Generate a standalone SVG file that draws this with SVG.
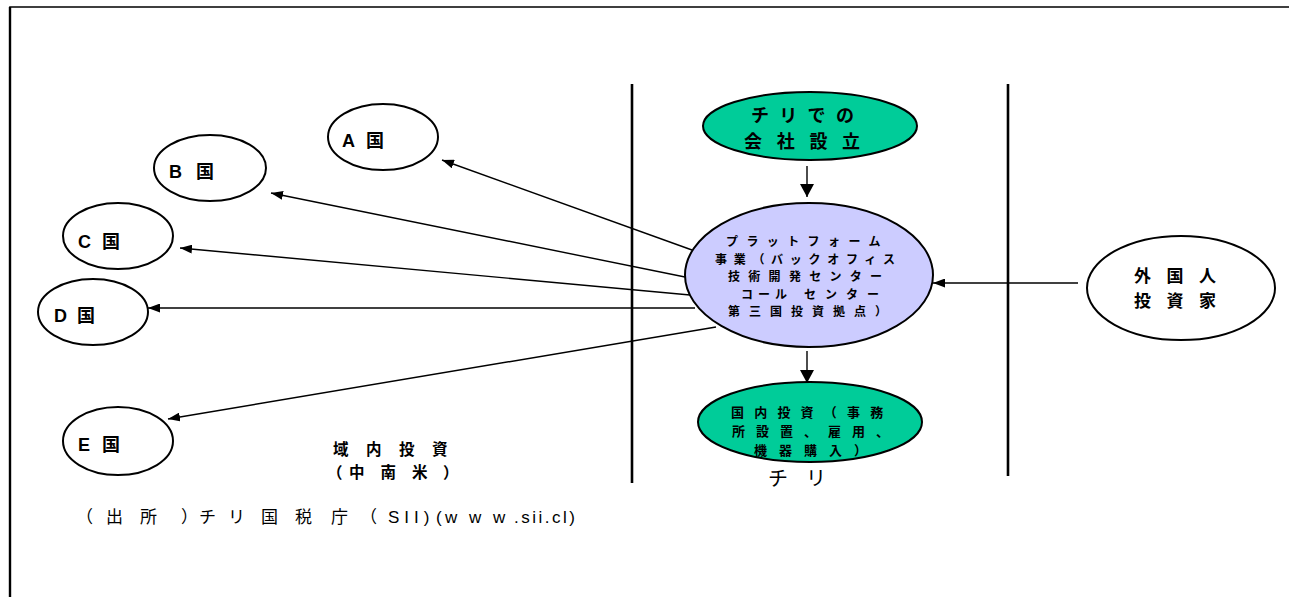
<svg xmlns="http://www.w3.org/2000/svg" width="1289" height="597" viewBox="0 0 1289 597">
<style>
.jp{font-family:"Noto Sans CJK JP","Liberation Sans",sans-serif;font-weight:bold;fill:#000}
.lbl{font-family:"Liberation Sans","Noto Sans CJK JP",sans-serif;font-weight:bold;font-size:18px;fill:#000}
.reg{font-family:"Noto Sans CJK JP","Liberation Sans",sans-serif;font-weight:normal;fill:#000}
.lat{font-family:"Liberation Sans","Noto Sans CJK JP",sans-serif;font-weight:normal;fill:#000}
.node{stroke:#000;stroke-width:2}
.white{fill:#fff}
.green{fill:#00CC99}
.lav{fill:#CCCCFF}
.conn{stroke:#000;stroke-width:1.4;fill:none}
.div{stroke:#000;stroke-width:2.6}
</style>
<defs>
<marker id="ah" markerUnits="userSpaceOnUse" markerWidth="12" markerHeight="9" refX="12" refY="4.5" orient="auto">
<path d="M0,0 L12,4.5 L0,9 z" fill="#000"/>
</marker>
<marker id="ahb" markerUnits="userSpaceOnUse" markerWidth="14" markerHeight="14" refX="13" refY="7" orient="auto">
<path d="M0,0 L13,7 L0,14 z" fill="#000"/>
</marker>
</defs>
<rect width="1289" height="597" fill="#fff"/>
<path d="M10,597 V7 H1289" fill="none" stroke="#000" stroke-width="1.6"/>
<line x1="10" y1="7" x2="10" y2="597" stroke="#000" stroke-width="2.4"/>

<g id="dividers">
<line class="div" x1="632" y1="84" x2="632" y2="483"/>
<line class="div" x1="1008" y1="84" x2="1008" y2="476"/>
</g>

<g id="connectors">
<line class="conn" x1="692" y1="250" x2="442" y2="160" marker-end="url(#ah)"/>
<line class="conn" x1="685" y1="277" x2="271" y2="193" marker-end="url(#ah)"/>
<line class="conn" x1="690" y1="295" x2="180" y2="248" marker-end="url(#ah)"/>
<line class="conn" x1="695" y1="308" x2="148" y2="308" marker-end="url(#ah)"/>
<line class="conn" x1="716" y1="327" x2="168" y2="419" marker-end="url(#ah)"/>
<line class="conn" x1="1078" y1="283" x2="933" y2="283" marker-end="url(#ah)"/>
<line class="conn" x1="807" y1="166" x2="807" y2="197" stroke-width="2" marker-end="url(#ahb)"/>
<line class="conn" x1="807" y1="351" x2="807" y2="383" stroke-width="2" marker-end="url(#ahb)"/>
</g>

<g id="chile-setup">
<ellipse class="node green" cx="810" cy="126" rx="107" ry="34"/>
<text class="jp" font-size="18" x="751" y="121.5" letter-spacing="10.3">チリでの</text>
<text class="jp" font-size="18" x="744" y="148" letter-spacing="14.7">会社設立</text>
</g>

<g id="platform">
<ellipse class="node lav" cx="809" cy="275" rx="124" ry="72"/>
<text class="jp" font-size="12" x="726" y="246" letter-spacing="8.4">プラットフォーム</text>
<text class="jp" font-size="12" x="715" y="263.5" letter-spacing="6.7">事業（バックオフィス</text>
<text class="jp" font-size="12" x="728" y="281" letter-spacing="8.3">技術開発センター</text>
<text class="jp" font-size="12" y="298.5"><tspan x="741" letter-spacing="5">コール</tspan><tspan x="804" letter-spacing="9">センター</tspan></text>
<text class="jp" font-size="12" x="728" y="316" letter-spacing="9">第三国投資拠点）</text>
</g>

<g id="domestic">
<ellipse class="node green" cx="810" cy="422" rx="112" ry="40"/>
<text class="jp" font-size="13" x="731" y="417" letter-spacing="10.2">国内投資（事務</text>
<text class="jp" font-size="13" x="732" y="436" letter-spacing="11">所設置、雇用、</text>
<text class="jp" font-size="13" x="754" y="455" letter-spacing="12">機器購入）</text>
</g>

<g id="foreign-investor">
<ellipse class="node white" cx="1181" cy="288" rx="94" ry="52"/>
<text class="jp" font-size="17" x="1134" y="282" letter-spacing="15.5">外国人</text>
<text class="jp" font-size="17" x="1134" y="307" letter-spacing="15.5">投資家</text>
</g>

<g id="country-a">
<ellipse class="node white" cx="383" cy="137" rx="55" ry="33"/>
<text class="lbl" y="147"><tspan x="342">A</tspan><tspan x="366" font-family="Noto Sans CJK JP, sans-serif">国</tspan></text>
</g>
<g id="country-b">
<ellipse class="node white" cx="210" cy="168" rx="56" ry="33"/>
<text class="lbl" y="178"><tspan x="169">B</tspan><tspan x="196" font-family="Noto Sans CJK JP, sans-serif">国</tspan></text>
</g>
<g id="country-c">
<ellipse class="node white" cx="118" cy="236" rx="55" ry="33"/>
<text class="lbl" y="248"><tspan x="78">C</tspan><tspan x="102" font-family="Noto Sans CJK JP, sans-serif">国</tspan></text>
</g>
<g id="country-d">
<ellipse class="node white" cx="93" cy="312" rx="55" ry="33"/>
<text class="lbl" y="322"><tspan x="54">D</tspan><tspan x="77" font-family="Noto Sans CJK JP, sans-serif">国</tspan></text>
</g>
<g id="country-e">
<ellipse class="node white" cx="118" cy="441" rx="55" ry="34"/>
<text class="lbl" y="451"><tspan x="78">E</tspan><tspan x="102" font-family="Noto Sans CJK JP, sans-serif">国</tspan></text>
</g>

<g id="labels">
<text class="jp" font-size="15.5" x="333" y="455" letter-spacing="17.5">域内投資</text>
<text class="jp" font-size="15.5" y="478"><tspan x="327">（</tspan><tspan x="349" letter-spacing="16">中南米</tspan><tspan x="443">）</tspan></text>
<text class="reg" font-size="20" x="768" y="486" letter-spacing="18">チリ</text>
<text class="reg" font-size="17" y="523"><tspan x="76 106 140 181 199 228 261 295 331 360">（出所）チリ国税庁（</tspan><tspan x="388" class="lat" letter-spacing="5">SII)</tspan><tspan x="436" class="lat">(</tspan><tspan x="445" class="lat" letter-spacing="11.7">www</tspan><tspan x="514" class="lat" letter-spacing="2.5">.sii.cl)</tspan></text>
</g>
</svg>
